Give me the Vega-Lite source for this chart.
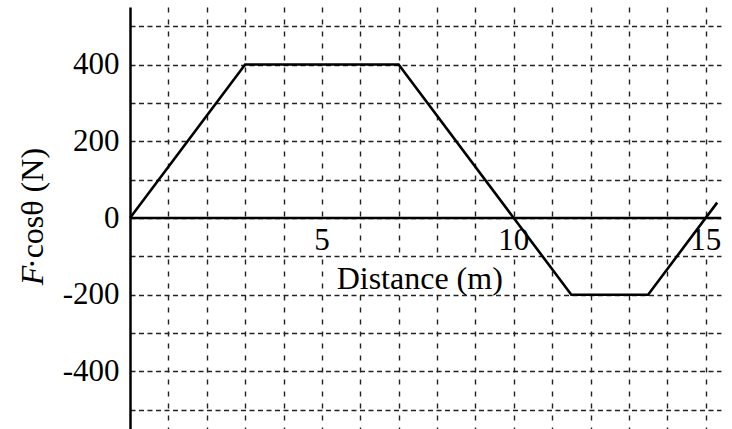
{
  "$schema": "https://vega.github.io/schema/vega-lite/v6.json",
  "width": 591,
  "height": 422,
  "autosize": {"type": "none"},
  "padding": {"left": 130, "top": 7, "right": 11, "bottom": 0},
  "background": "white",
  "config": {
    "view": {"stroke": null},
    "font": "Liberation Serif",
    "text": {"font": "Liberation Serif", "fontSize": 31, "color": "black"}
  },
  "datasets": {
    "force": [
      {"distance": 0, "force": 0},
      {"distance": 3, "force": 400},
      {"distance": 7, "force": 400},
      {"distance": 10, "force": 0},
      {"distance": 11.5, "force": -200},
      {"distance": 13.5, "force": -200},
      {"distance": 15.3, "force": 40}
    ],
    "xticks": [
      {"distance": 5, "label": "5"},
      {"distance": 10, "label": "10"},
      {"distance": 15, "label": "15"}
    ],
    "blank": [{}]
  },
  "layer": [
    {
      "data": {"name": "blank"},
      "mark": {"type": "rect", "color": "white"},
      "encoding": {
        "x": {
          "datum": 5.25,
          "type": "quantitative",
          "scale": {"domain": [0, 15.4], "nice": false, "zero": false},
          "axis": {
            "values": [1, 2, 3, 4, 5, 6, 7, 8, 9, 10, 11, 12, 13, 14, 15],
            "grid": true,
            "gridColor": "#222222",
            "gridWidth": 1.4,
            "gridDash": [5, 7],
            "labels": false,
            "ticks": false,
            "domain": false,
            "title": null
          }
        },
        "x2": {"datum": 9.8},
        "y": {
          "datum": -105,
          "type": "quantitative",
          "scale": {"domain": [-550, 550], "nice": false, "zero": false},
          "axis": {
            "values": [-500, -400, -300, -200, -100, 0, 100, 200, 300, 400, 500],
            "grid": true,
            "gridColor": "#222222",
            "gridWidth": 1.4,
            "gridDash": [5, 3.5],
            "labelExpr": "datum.value % 200 === 0 ? '' + datum.value : ''",
            "labelFont": "Liberation Serif",
            "labelFontSize": 31,
            "labelColor": "black",
            "labelPadding": 11,
            "ticks": false,
            "domain": true,
            "domainColor": "black",
            "domainWidth": 2.5,
            "title": null
          }
        },
        "y2": {"datum": -195}
      }
    },
    {
      "data": {"name": "xticks"},
      "mark": {"type": "point", "shape": "square", "filled": true, "color": "white", "size": 1150, "opacity": 1},
      "encoding": {
        "x": {"field": "distance", "type": "quantitative"},
        "y": {"datum": -50}
      }
    },
    {
      "data": {"name": "xticks"},
      "mark": {"type": "text", "align": "center", "baseline": "alphabetic"},
      "encoding": {
        "x": {"field": "distance", "type": "quantitative"},
        "y": {"datum": -84},
        "text": {"field": "label"}
      }
    },
    {
      "data": {"name": "blank"},
      "mark": {"type": "text", "text": "Distance (m)", "align": "center", "baseline": "alphabetic", "fontSize": 32},
      "encoding": {
        "x": {"datum": 7.55},
        "y": {"datum": -184}
      }
    },
    {
      "data": {"name": "blank"},
      "mark": {"type": "text", "text": "F", "fontStyle": "italic", "fontSize": 32, "angle": 270, "align": "left", "baseline": "alphabetic", "clip": false},
      "encoding": {
        "x": {"datum": -2.27},
        "y": {"datum": -175}
      }
    },
    {
      "data": {"name": "blank"},
      "mark": {"type": "text", "text": "·cosθ (N)", "fontSize": 32, "angle": 270, "align": "left", "baseline": "alphabetic", "clip": false},
      "encoding": {
        "x": {"datum": -2.27},
        "y": {"datum": -133}
      }
    },
    {
      "data": {"name": "blank"},
      "mark": {"type": "rule", "color": "black", "strokeWidth": 2.5},
      "encoding": {
        "y": {"datum": 0}
      }
    },
    {
      "data": {"name": "force"},
      "mark": {"type": "line", "color": "black", "strokeWidth": 2.6},
      "encoding": {
        "x": {"field": "distance", "type": "quantitative"},
        "y": {"field": "force", "type": "quantitative"}
      }
    }
  ]
}
